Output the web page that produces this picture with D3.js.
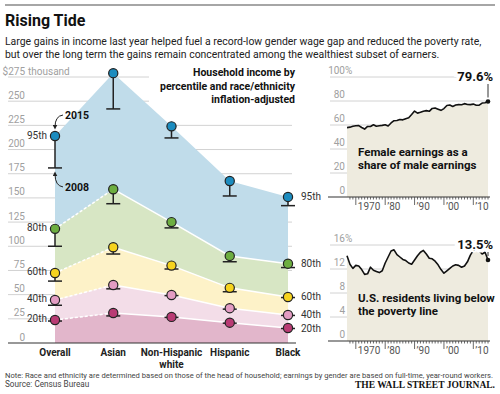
<!DOCTYPE html>
<html>
<head>
<meta charset="utf-8">
<script src="https://cdn.jsdelivr.net/npm/d3@7"></script>
<style>
  body { margin: 0; background: #fff; }
  svg { display: block; font-family: Roboto, "Open Sans", sans-serif; }
</style>
</head>
<body>
<svg id="chart" width="500" height="394"></svg>
<script>
// ---- data (thousands of dollars) ----
const categories = ["Overall", "Asian", "Non-Hispanic white", "Hispanic", "Black"];
const pctLabels = ["20th", "40th", "60th", "80th", "95th"];

const p20_2015 = [23.8, 31, 27, 21, 15.5];
const p40_2015 = [44.5, 60, 49.6, 36, 29];
const p60_2015 = [72.4, 99, 80, 57, 47.6];
const p80_2015 = [118, 159, 125, 90, 82];
const p95_2015 = [214, 279, 224, 167.5, 151];

const p20_2008 = [22.7, 28, 26.5, 20.5, 15];
const p40_2008 = [39, 56, 49, 35, 28.5];
const p60_2008 = [64, 92, 76.5, 53, 47];
const p80_2008 = [100, 144, 119, 84, 78];
const p95_2008 = [181, 242, 212, 152, 142];

const incomeTicks = [0, 25, 50, 75, 100, 125, 150, 175, 200, 225, 250, 275];

// right panels, 1967-2015
const firstYear = 1967, lastYear = 2015;
const femaleShare = [57.8, 58.2, 58.9, 59.4, 59.5, 57.9, 56.6, 58.8, 58.8, 60.2,
  58.9, 59.4, 59.7, 60.2, 59.2, 61.7, 63.6, 63.7, 64.6, 64.3,
  65.2, 66.0, 68.7, 71.6, 69.9, 70.6, 71.5, 72.0, 71.4, 73.8,
  74.2, 73.2, 72.2, 73.7, 76.3, 76.6, 75.5, 76.6, 77.0, 76.9,
  77.8, 77.1, 77.0, 77.4, 76.5, 76.5, 78.3, 78.6, 79.6];
const povertyRate = [14.2, 12.8, 12.1, 12.6, 12.5, 11.9, 11.1, 11.2, 12.3, 11.8,
  11.6, 11.4, 11.7, 13.0, 14.0, 15.0, 15.2, 14.4, 14.0, 13.6,
  13.4, 13.0, 12.8, 13.5, 14.2, 14.8, 15.1, 14.5, 13.8, 13.7,
  13.3, 12.7, 11.9, 11.3, 11.7, 12.1, 12.5, 12.7, 12.6, 12.3,
  12.5, 13.2, 14.3, 15.1, 15.0, 15.0, 14.5, 14.8, 13.5];
const shareTicks = [0, 20, 40, 60, 80, 100];
const povertyTicks = [0, 4, 8, 12, 16];
const decadeTicks = [1970, 1980, 1990, 2000, 2010];
const decadeLabels = ["1970", "\u201980", "\u201990", "\u201900", "\u201910"];

// ---- styles ----
const bandColors = ["#e2b6cb", "#f3dde8", "#fdf2c8", "#d7e6c4", "#c0dcea"];
const dotColors = ["#b93b74", "#e39cc3", "#f6d31e", "#6dae40", "#1c8cbf"];

const svg = d3.select("#chart");
svg.append("rect").attr("width", 500).attr("height", 394).attr("fill", "#fff");

// shrink a text's font size until it fits the given width
function fitText(sel, maxW, size) {
  sel.attr("font-size", size);
  const w = sel.node().getComputedTextLength();
  if (w > maxW) sel.attr("font-size", (size * maxW / w).toFixed(2));
  return sel;
}

// ---- header ----
svg.append("line").attr("x1", 5).attr("x2", 495).attr("y1", 5).attr("y2", 5)
  .attr("stroke", "#888").attr("stroke-width", 1.5);
svg.append("text").attr("x", 5).attr("y", 26)
  .attr("font-size", 16).attr("font-weight", 700).attr("fill", "#111")
  .text("Rising Tide");
const subLines = [
  "Large gains in income last year helped fuel a record-low gender wage gap and reduced the poverty rate,",
  "but over the long term the gains remain concentrated among the wealthiest subset of earners."
];
const sub0 = svg.append("text").attr("x", 5).attr("y", 45).attr("fill", "#222").text(subLines[0]);
fitText(sub0, 477, 10.5);
svg.append("text").attr("x", 5).attr("y", 57.5).attr("fill", "#222")
  .attr("font-size", sub0.attr("font-size")).text(subLines[1]);

// ================= left chart =================
const x = d3.scalePoint().domain(categories).range([55, 288]);
const y = d3.scaleLinear().domain([0, 275]).range([343, 77]);

const left = svg.append("g");

left.selectAll("line.grid").data(incomeTicks.filter(d => d > 0)).join("line")
  .attr("class", "grid")
  .attr("x1", 8).attr("x2", 292)
  .attr("y1", d => y(d)).attr("y2", d => y(d))
  .attr("stroke", "#d2d2d2");

left.selectAll("text.ylab").data(incomeTicks).join("text")
  .attr("class", "ylab")
  .attr("x", 25).attr("y", d => y(d) - 2.5)
  .attr("text-anchor", "end")
  .attr("font-size", 10).attr("fill", "#a0a0a0")
  .text(d => d === 275 ? "$275" : d);
left.append("text").attr("x", 28).attr("y", y(275) - 2.5)
  .attr("font-size", 10).attr("fill", "#a0a0a0").text("thousand");

// white box behind the chart title
left.append("rect").attr("x", 149).attr("y", 62).attr("width", 150).attr("height", 42)
  .attr("fill", "#fff");

const series2015 = [p20_2015, p40_2015, p60_2015, p80_2015, p95_2015];
const series2008 = [p20_2008, p40_2008, p60_2008, p80_2008, p95_2008];
const zeros = categories.map(() => 0);

const area = d3.area()
  .x(d => x(d.cat))
  .y0(d => y(d.lo))
  .y1(d => y(d.hi));

series2015.forEach((ser, i) => {
  const lower = i === 0 ? zeros : series2015[i - 1];
  const rows = categories.map((c, j) => ({ cat: c, lo: lower[j], hi: ser[j] }));
  left.append("path").attr("d", area(rows)).attr("fill", bandColors[i]);
});

// white separators between bands (dashed from Overall to Asian)
const sepLine = d3.line().x(d => x(d.cat)).y(d => y(d.v));
series2015.slice(0, 4).forEach(ser => {
  const rows = categories.map((c, j) => ({ cat: c, v: ser[j] }));
  left.append("path").attr("d", sepLine(rows.slice(0, 2)))
    .attr("fill", "none").attr("stroke", "#fff").attr("stroke-width", 1.5)
    .attr("stroke-dasharray", "3,2");
  left.append("path").attr("d", sepLine(rows.slice(1)))
    .attr("fill", "none").attr("stroke", "#fff").attr("stroke-width", 1.5);
});

// baseline
left.append("line").attr("x1", 8).attr("x2", 296).attr("y1", y(0)).attr("y2", y(0))
  .attr("stroke", "#333").attr("stroke-width", 1.2);

// 2008 stems + 2015 dots
series2015.forEach((ser, i) => {
  categories.forEach((c, j) => {
    const cx = x(c), y15 = y(ser[j]), y08 = y(series2008[i][j]);
    left.append("line").attr("x1", cx).attr("x2", cx).attr("y1", y15).attr("y2", y08)
      .attr("stroke", "#222").attr("stroke-width", 1.5);
    left.append("line").attr("x1", cx - 7).attr("x2", cx + 7).attr("y1", y08).attr("y2", y08)
      .attr("stroke", "#222").attr("stroke-width", 1.5);
  });
});
series2015.forEach((ser, i) => {
  left.selectAll(null).data(ser).join("circle")
    .attr("cx", (d, j) => x(categories[j]))
    .attr("cy", d => y(d))
    .attr("r", 4.6)
    .attr("fill", dotColors[i])
    .attr("stroke", "#222").attr("stroke-width", 1.2);
});

// percentile labels
series2015.forEach((ser, i) => {
  left.append("text").attr("x", x(categories[0]) - 8).attr("y", y(ser[0]) + 2.5)
    .attr("text-anchor", "end").attr("font-size", 10).attr("fill", "#333")
    .text(pctLabels[i]);
  left.append("text").attr("x", x(categories[4]) + 13).attr("y", y(ser[4]) + 3.5)
    .attr("font-size", 10).attr("fill", "#333")
    .text(pctLabels[i]);
});

// category labels
categories.forEach(c => {
  const words = c === "Non-Hispanic white" ? ["Non-Hispanic", "white"] : [c];
  words.forEach((w, k) => {
    left.append("text").attr("x", x(c)).attr("y", 356 + k * 11.5)
      .attr("text-anchor", "middle").attr("font-size", 10).attr("font-weight", 700)
      .attr("fill", "#222").text(w);
  });
});

// chart title
["Household income by", "percentile and race/ethnicity", "inflation-adjusted"].forEach((t, i) => {
  left.append("text").attr("x", 295).attr("y", 76 + i * 13.5)
    .attr("text-anchor", "end").attr("font-size", 10.5).attr("font-weight", 700)
    .attr("fill", "#111").text(t);
});

// 2015 / 2008 annotations
svg.append("defs").append("marker")
  .attr("id", "arr").attr("viewBox", "0 0 6 6").attr("refX", 3).attr("refY", 3)
  .attr("markerWidth", 5).attr("markerHeight", 5).attr("orient", "auto")
  .append("path").attr("d", "M0,0 L6,3 L0,6 Z").attr("fill", "#222");
const ox = x(categories[0]);
const top95 = y(p95_2015[0]), tick95 = y(p95_2008[0]);
left.append("path")
  .attr("d", `M${ox + 8},${top95 - 21} Q${ox},${top95 - 20} ${ox},${top95 - 9}`)
  .attr("fill", "none").attr("stroke", "#222").attr("stroke-width", 1)
  .attr("marker-end", "url(#arr)");
left.append("text").attr("x", ox + 10).attr("y", top95 - 17)
  .attr("font-size", 10.5).attr("font-weight", 700).attr("fill", "#111").text("2015");
left.append("path")
  .attr("d", `M${ox + 8},${tick95 + 19} Q${ox},${tick95 + 18} ${ox},${tick95 + 6}`)
  .attr("fill", "none").attr("stroke", "#222").attr("stroke-width", 1)
  .attr("marker-end", "url(#arr)");
left.append("text").attr("x", ox + 10).attr("y", tick95 + 23)
  .attr("font-size", 10.5).attr("font-weight", 700).attr("fill", "#111").text("2008");

// ================= right charts =================
const xr = d3.scaleLinear().domain([firstYear, lastYear]).range([347, 488]);
const years = femaleShare.map((d, i) => firstYear + i);

function drawPanel(values, ticks, yScale, pctTop, endLabel, caption) {
  const g = svg.append("g");
  const base = yScale(0);

  g.selectAll("line.grid").data(ticks.filter(d => d > 0)).join("line")
    .attr("x1", 330).attr("x2", 488)
    .attr("y1", d => yScale(d)).attr("y2", d => yScale(d))
    .attr("stroke", "#d2d2d2");
  g.selectAll("text.ylab").data(ticks).join("text")
    .attr("x", 345).attr("y", d => yScale(d) - 3)
    .attr("text-anchor", "end").attr("font-size", 10).attr("fill", "#a0a0a0")
    .text(d => d);
  g.append("text").attr("x", 345).attr("y", yScale(pctTop) - 3)
    .attr("font-size", 10).attr("fill", "#a0a0a0").text("%");

  const rows = values.map((v, i) => ({ yr: years[i], v: v }));
  g.append("path")
    .attr("d", d3.area().x(d => xr(d.yr)).y0(base).y1(d => yScale(d.v))(rows))
    .attr("fill", "#eeebdf");
  g.append("path")
    .attr("d", d3.line().x(d => xr(d.yr)).y(d => yScale(d.v))(rows))
    .attr("fill", "none").attr("stroke", "#111").attr("stroke-width", 1.6)
    .attr("stroke-linejoin", "round");
  const last = rows[rows.length - 1];
  g.append("circle").attr("cx", xr(last.yr)).attr("cy", yScale(last.v)).attr("r", 2.3)
    .attr("fill", "#111");

  // end label
  const ly = yScale(pctTop) + 4;
  g.append("text").attr("x", 493).attr("y", ly)
    .attr("text-anchor", "end").attr("font-size", 13).attr("font-weight", 700)
    .attr("fill", "#111")
    .attr("stroke", "#fff").attr("stroke-width", 7).attr("paint-order", "stroke")
    .text(endLabel);
  g.append("line").attr("x1", xr(last.yr)).attr("x2", xr(last.yr))
    .attr("y1", ly + 3).attr("y2", yScale(last.v) - 4)
    .attr("stroke", "#333").attr("stroke-width", 1);

  // axis
  g.append("line").attr("x1", 328).attr("x2", 490).attr("y1", base).attr("y2", base)
    .attr("stroke", "#333").attr("stroke-width", 1.2);
  g.selectAll("line.minor").data(d3.range(firstYear + 1, lastYear + 1)).join("line")
    .attr("x1", d => xr(d)).attr("x2", d => xr(d))
    .attr("y1", base).attr("y2", d => base + (d % 10 === 0 ? 8 : 2.5))
    .attr("stroke", "#444").attr("stroke-width", 0.8);
  g.selectAll("text.yr").data(decadeTicks).join("text")
    .attr("x", d => xr(d) + 2).attr("y", base + 13)
    .attr("font-size", 10).attr("fill", "#555")
    .text((d, i) => decadeLabels[i]);

  caption.forEach((t, i) => {
    g.append("text").attr("x", 358).attr("y", caption.y0 + i * 13)
      .attr("font-size", 11.5).attr("font-weight", 700).attr("fill", "#111").text(t);
  });
}

const yShare = d3.scaleLinear().domain([0, 100]).range([197, 77]);
const yPov = d3.scaleLinear().domain([0, 16]).range([341, 245]);
const cap1 = ["Female earnings as a", "share of male earnings"]; cap1.y0 = 156;
const cap2 = ["U.S. residents living below", "the poverty line"]; cap2.y0 = 302;
drawPanel(femaleShare, shareTicks, yShare, 100, "79.6%", cap1);
drawPanel(povertyRate, povertyTicks, yPov, 16, "13.5%", cap2);

// ---- footer ----
const note = svg.append("text").attr("x", 5).attr("y", 377.5).attr("fill", "#444")
  .text("Note: Race and ethnicity are determined based on those of the head of household; earnings by gender are based on full-time, year-round workers.");
fitText(note, 488, 8.2);
svg.append("text").attr("x", 5).attr("y", 387)
  .attr("font-size", 8.2).attr("fill", "#444").text("Source: Census Bureau");
svg.append("text").attr("x", 495).attr("y", 387.5)
  .attr("text-anchor", "end").attr("font-size", 9.5).attr("font-weight", 700)
  .attr("font-family", "'Liberation Serif', 'DejaVu Serif', serif")
  .attr("fill", "#111").text("THE WALL STREET JOURNAL.");
</script>
</body>
</html>
